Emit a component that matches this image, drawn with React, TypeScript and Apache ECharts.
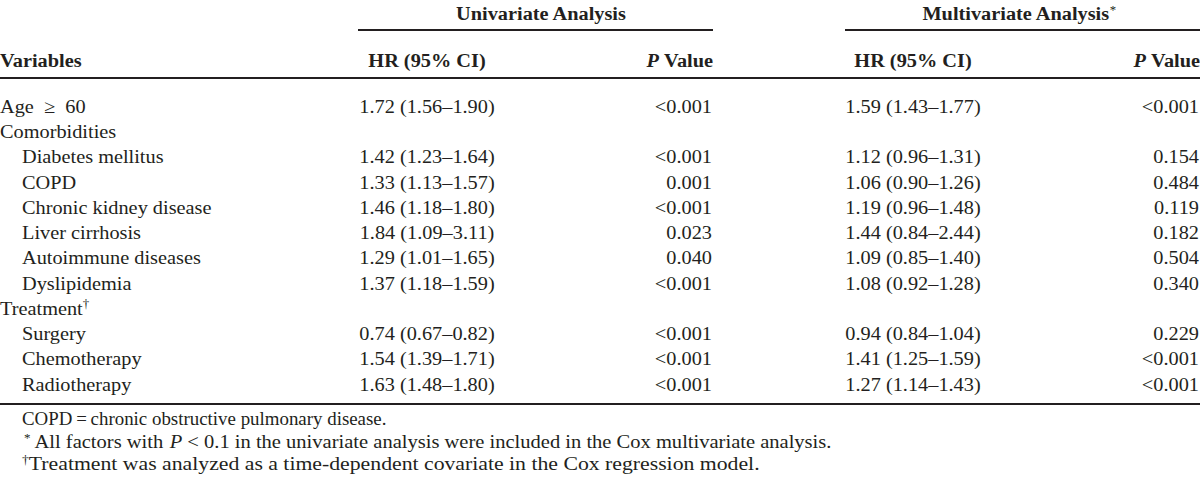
import React, { useEffect, useRef } from "react";
import * as echarts from "echarts";

const groupHeaders = ["Univariate Analysis", "Multivariate Analysis"];
const groupMarks = ["", "*"];
const columnHeaders = ["Variables", "HR (95% CI)", "P Value", "HR (95% CI)", "P Value"];

const variables = [
  "Age\u2002\u2265\u200260",
  "Comorbidities",
  "Diabetes mellitus",
  "COPD",
  "Chronic kidney disease",
  "Liver cirrhosis",
  "Autoimmune diseases",
  "Dyslipidemia",
  "Treatment",
  "Surgery",
  "Chemotherapy",
  "Radiotherapy",
];
const indented = [false, false, true, true, true, true, true, true, false, true, true, true];
const superscripts = ["", "", "", "", "", "", "", "", "\u2020", "", "", ""];
const uniHR = [
  "1.72 (1.56\u20131.90)", "", "1.42 (1.23\u20131.64)", "1.33 (1.13\u20131.57)", "1.46 (1.18\u20131.80)",
  "1.84 (1.09\u20133.11)", "1.29 (1.01\u20131.65)", "1.37 (1.18\u20131.59)", "", "0.74 (0.67\u20130.82)",
  "1.54 (1.39\u20131.71)", "1.63 (1.48\u20131.80)",
];
const uniP = ["<0.001", "", "<0.001", "0.001", "<0.001", "0.023", "0.040", "<0.001", "", "<0.001", "<0.001", "<0.001"];
const multiHR = [
  "1.59 (1.43\u20131.77)", "", "1.12 (0.96\u20131.31)", "1.06 (0.90\u20131.26)", "1.19 (0.96\u20131.48)",
  "1.44 (0.84\u20132.44)", "1.09 (0.85\u20131.40)", "1.08 (0.92\u20131.28)", "", "0.94 (0.84\u20131.04)",
  "1.41 (1.25\u20131.59)", "1.27 (1.14\u20131.43)",
];
const multiP = ["<0.001", "", "0.154", "0.484", "0.119", "0.182", "0.504", "0.340", "", "0.229", "<0.001", "<0.001"];

// footnotes as rich-text strings
const footnotes = [
  "{n|COPD\u2009=\u2009chronic obstructive pulmonary disease.}",
  "{sup|*}{n| All factors with }{it|P}{n| < 0.1 in the univariate analysis were included in the Cox multivariate analysis.}",
  "{sup|\u2020}{n|Treatment was analyzed as a time-dependent covariate in the Cox regression model.}",
];

const FONT = '"Liberation Serif", "Times New Roman", Times, serif';
const FS = 19;
const SX = 1.07;
const INK = "#231f20";

const rich = {
  n: { fontFamily: FONT, fontSize: FS, fill: INK, verticalAlign: "bottom" },
  b: { fontFamily: FONT, fontSize: FS, fill: INK, fontWeight: "bold", verticalAlign: "bottom" },
  it: { fontFamily: FONT, fontSize: FS, fill: INK, fontStyle: "italic", verticalAlign: "bottom" },
  bi: { fontFamily: FONT, fontSize: FS, fill: INK, fontStyle: "italic", fontWeight: "bold", verticalAlign: "bottom" },
  sup: { fontFamily: FONT, fontSize: 12, fill: INK, verticalAlign: "top" },
};

function txt(x: number, y: number, text: string, align: string, bold = false, useRich = false, sx = SX) {
  const style: any = {
    text,
    fontFamily: FONT,
    fontSize: FS,
    fill: INK,
    fontWeight: bold ? "bold" : "normal",
    align,
    verticalAlign: "middle",
  };
  if (useRich) style.rich = rich;
  return { type: "text", x, y, scaleX: sx, silent: true, style };
}

function line(x1: number, x2: number, y: number) {
  return {
    type: "line",
    silent: true,
    shape: { x1, y1: y, x2, y2: y },
    style: { stroke: INK, lineWidth: 1.8 },
  };
}

export default function App() {
  const ref = useRef<HTMLDivElement>(null);
  useEffect(() => {
    if (!ref.current) return;
    const chart = echarts.init(ref.current, undefined, { renderer: "svg" });

    const HR1 = 427, P1 = 712, HR2 = 913, P2 = 1199;
    const elements: any[] = [];

    // group headers
    elements.push(txt(541, 13.6, "{b|" + groupHeaders[0] + "}", "center", true, true));
    elements.push(txt(1019, 13.6, "{b|" + groupHeaders[1] + "}{sup|" + groupMarks[1] + "}", "center", true, true));
    elements.push(line(358, 713, 30));
    elements.push(line(845, 1200, 30));

    // column headers
    const hy = 60.6;
    elements.push(txt(0, hy, columnHeaders[0], "left", true));
    elements.push(txt(HR1, hy, columnHeaders[1], "center", true));
    elements.push(txt(P1 + 1, hy, "{bi|P}{b| Value}", "right", true, true));
    elements.push(txt(HR2, hy, columnHeaders[3], "center", true));
    elements.push(txt(P2 + 1, hy, "{bi|P}{b| Value}", "right", true, true));
    elements.push(line(0, 1200, 78));

    // rows
    const y0 = 106.1, dy = 25.25;
    variables.forEach((v, i) => {
      const y = y0 + i * dy;
      const x = indented[i] ? 22 : 0;
      if (superscripts[i]) {
        elements.push(txt(x, y, "{n|" + v + "}{sup|" + superscripts[i] + "}", "left", false, true));
      } else {
        elements.push(txt(x, y, v, "left"));
      }
      if (uniHR[i]) elements.push(txt(HR1, y, uniHR[i], "center"));
      if (uniP[i]) elements.push(txt(P1, y, uniP[i], "right"));
      if (multiHR[i]) elements.push(txt(HR2, y, multiHR[i], "center"));
      if (multiP[i]) elements.push(txt(P2, y, multiP[i], "right"));
    });
    elements.push(line(0, 1200, 404));

    // footnotes
    elements.push(txt(22, 418.8, footnotes[0], "left", false, true, SX * 0.93));
    elements.push(txt(24, 441.6, footnotes[1], "left", false, true, SX * 1.01));
    elements.push(txt(22, 463.8, footnotes[2], "left", false, true, SX * 1.07));

    chart.setOption({
      animation: false,
      backgroundColor: "#ffffff",
      graphic: { elements },
    });
    return () => chart.dispose();
  }, []);

  return (
    <div
      ref={ref}
      style={{ position: "fixed", left: 0, top: 0, width: 1200, height: 483, background: "#fff" }}
    />
  );
}
